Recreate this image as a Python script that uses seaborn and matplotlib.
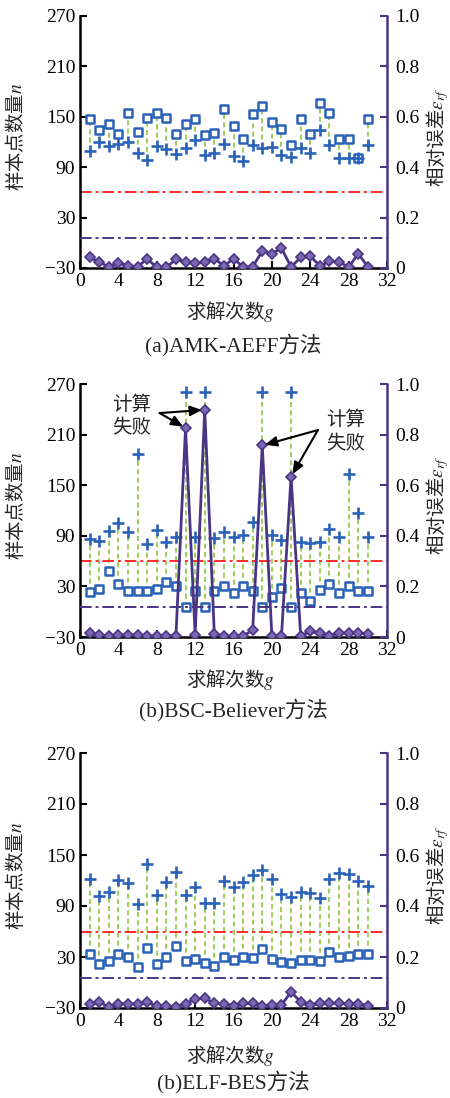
import numpy as np
import seaborn as sns
import matplotlib.pyplot as plt
import matplotlib.ticker as ticker

# run index
g = np.arange(1, 31)

# (a) AMK-AEFF
sq_a = [147, 134, 142, 130, 155, 132, 149, 154, 148, 129, 142, 147, 128, 131, 159,
        139, 123, 153, 163, 144, 135, 116, 147, 129, 167, 154, 124, 123, 101, 147]
plus_a = [109, 120, 115, 118, 120, 107, 99, 115, 112, 106, 113, 122, 105, 107, 118,
          103, 97, 117, 113, 114, 105, 102, 113, 107, 134, 116, 101, 101, 101, 116]
err_a = [0.042, 0.025, 0.004, 0.021, 0.009, 0.005, 0.036, 0.003, 0.003, 0.034,
         0.025, 0.018, 0.024, 0.037, 0.009, 0.036, 0.005, 0.005, 0.067, 0.057,
         0.079, 0.004, 0.042, 0.047, 0.009, 0.026, 0.025, 0.003, 0.057, 0.005]

# (b) BSC-Believer
sq_b = [23, 27, 48, 33, 25, 25, 25, 27, 35, 30, 5, 25, 5, 25, 30,
        22, 30, 25, 5, 18, 28, 5, 22, 13, 26, 33, 22, 30, 25, 25]
plus_b = [86, 84, 96, 105, 95, 187, 80, 97, 83, 89, 260, 89, 260, 87, 95,
          89, 91, 106, 260, 91, 85, 260, 83, 81, 83, 98, 89, 163, 117, 89]
err_b = [0.016, 0.008, 0.004, 0.009, 0.008, 0.008, 0.004, 0.004, 0.004, 0.004,
         0.826, 0.009, 0.898, 0.012, 0.003, 0.003, 0.003, 0.029, 0.757, 0.003,
         0.003, 0.634, 0.005, 0.022, 0.016, 0.005, 0.016, 0.016, 0.016, 0.013]

# (c) ELF-BES
sq_c = [33, 22, 25, 34, 30, 18, 41, 22, 30, 43, 25, 28, 23, 20, 30,
        26, 30, 29, 39, 28, 24, 23, 27, 27, 25, 36, 30, 31, 34, 34]
plus_c = [122, 102, 106, 121, 117, 92, 140, 103, 118, 130, 103, 112, 93, 93, 119,
          112, 118, 126, 132, 122, 104, 101, 107, 105, 99, 122, 129, 128, 120, 114]
err_c = [0.016, 0.024, 0.004, 0.017, 0.016, 0.016, 0.022, 0.009, 0.009, 0.005,
         0.016, 0.035, 0.039, 0.018, 0.016, 0.008, 0.018, 0.018, 0.007, 0.010,
         0.012, 0.063, 0.024, 0.010, 0.018, 0.020, 0.018, 0.017, 0.017, 0.009]

captions = ["(a)AMK-AEFF方法", "(b)BSC-Believer方法", "(b)ELF-BES方法"]
n_threshold = 60      # red dash-dot line (left axis)
err_threshold = 0.118  # purple dash-dot line (right axis)

BLUE = "#2B62B8"
GREEN = "#8CC63F"
RED = "#FF2A2A"
PURPLE = "#4A3585"
PURPLE_FILL = "#7B68B2"
CJK = "Noto Sans CJK SC"

sns.set_style("ticks")
plt.rcParams["font.family"] = ["Liberation Serif", CJK]
plt.rcParams["mathtext.fontset"] = "stix"
plt.rcParams["axes.unicode_minus"] = True

FS = 14
LFS = 14
CFS = 15.5

fig = plt.figure(figsize=(4.5, 10.98), dpi=100)
W, H = 450.0, 1098.0

# axes boxes in pixels: (left, top, right, bottom)
boxes = [(80, 16, 387, 268), (80, 384, 387, 637), (80, 753, 387, 1008)]
xlabel_y = [312, 679, 1055]
caption_y = [345, 710, 1082]


def draw_panel(i, sq, plus, err):
    l, t, r, b = boxes[i]
    ax = fig.add_axes([l / W, 1 - b / H, (r - l) / W, (b - t) / H])

    # green dashed links between the two sample counts
    ax.vlines(g, np.minimum(sq, plus), np.maximum(sq, plus), colors=GREEN,
              linestyles=(0, (3, 2)), lw=1.2, zorder=1)
    ax.axhline(n_threshold, color=RED, lw=1.4, ls=(0, (6, 2, 1.5, 2)), zorder=1)

    sns.scatterplot(x=g, y=sq, ax=ax, marker="s", s=32, facecolor="white",
                    edgecolor=BLUE, linewidth=1.8, zorder=3)
    sns.scatterplot(x=g, y=plus, ax=ax, marker="+", s=75, color=BLUE,
                    linewidth=1.9, zorder=3)

    ax.set_xlim(0, 32)
    ax.set_ylim(-30, 270)
    ax.xaxis.set_major_locator(ticker.MultipleLocator(4))
    ax.set_yticks([-30, 30, 90, 150, 210, 270])
    ax.tick_params(direction="in", length=5, width=1.5, labelsize=FS,
                   colors="black", pad=3.5)
    for s in ["top", "right"]:
        ax.spines[s].set_visible(False)
    for s in ["left", "bottom"]:
        ax.spines[s].set_linewidth(1.8)
        ax.spines[s].set_color("black")

    ax.set_xlabel("求解次数$g$", fontsize=LFS, family=CJK)
    ax.xaxis.set_label_coords(0.49, -(xlabel_y[i] - b) / (b - t))
    ax.xaxis.label.set_va("center")
    ax.set_ylabel("样本点数量$n$", fontsize=LFS, family=CJK)
    ax.yaxis.set_label_coords(-(l - 16) / (r - l), 0.52)
    ax.yaxis.label.set_va("center")

    ax2 = ax.twinx()
    ax2.axhline(err_threshold, color=PURPLE, lw=1.4, ls=(0, (6, 2, 1.5, 2)), zorder=1)
    sns.lineplot(x=g, y=err, ax=ax2, color=PURPLE, lw=2, marker="D",
                 markersize=5, markerfacecolor=PURPLE_FILL,
                 markeredgecolor=PURPLE, markeredgewidth=1.2, errorbar=None)
    ax2.set_ylim(0, 1.0)
    ax2.set_yticks([0, 0.2, 0.4, 0.6, 0.8, 1.0])
    ax2.yaxis.set_major_formatter(
        ticker.FuncFormatter(lambda v, p: "0" if v == 0 else f"{v:.1f}"))
    ax2.tick_params(axis="y", direction="in", length=5, width=1.5, labelsize=FS,
                    colors=PURPLE, labelcolor="black", pad=6)
    for s in ["top", "left", "bottom"]:
        ax2.spines[s].set_visible(False)
    ax2.spines["right"].set_linewidth(1.8)
    ax2.spines["right"].set_color(PURPLE)
    ax2.set_ylabel("相对误差$\\varepsilon_{rf}$", fontsize=LFS, family=CJK)
    ax2.yaxis.set_label_coords((438 - l) / (r - l), 0.52)
    ax2.yaxis.label.set_va("center")

    fig.text((l + r) / 2 / W, 1 - caption_y[i] / H, captions[i], fontsize=CFS,
             ha="center", va="center")
    return ax, ax2


panels = [(sq_a, plus_a, err_a), (sq_b, plus_b, err_b), (sq_c, plus_c, err_c)]
for i, (sq, plus, err) in enumerate(panels):
    ax, ax2 = draw_panel(i, sq, plus, err)
    if i == 1:
        arrow = dict(arrowstyle="-|>,head_length=0.7,head_width=0.3",
                     color="black", lw=1.5, shrinkA=0, shrinkB=2)
        ax2.text(5.4, 0.873, "计算\n失败", fontsize=14, family=CJK,
                 ha="center", va="center", linespacing=1.2, zorder=5)
        ax2.annotate("", xy=(11, err[10]), xytext=(8.3, 0.885), arrowprops=arrow)
        ax2.annotate("", xy=(13, err[12]), xytext=(8.3, 0.885), arrowprops=arrow)
        ax2.text(27.7, 0.813, "计算\n失败", fontsize=14, family=CJK,
                 ha="center", va="center", linespacing=1.2, zorder=5)
        ax2.annotate("", xy=(19, err[18]), xytext=(24.8, 0.818), arrowprops=arrow)
        ax2.annotate("", xy=(22, err[21]), xytext=(24.8, 0.818), arrowprops=arrow)

fig.savefig("out.png", dpi=100)
